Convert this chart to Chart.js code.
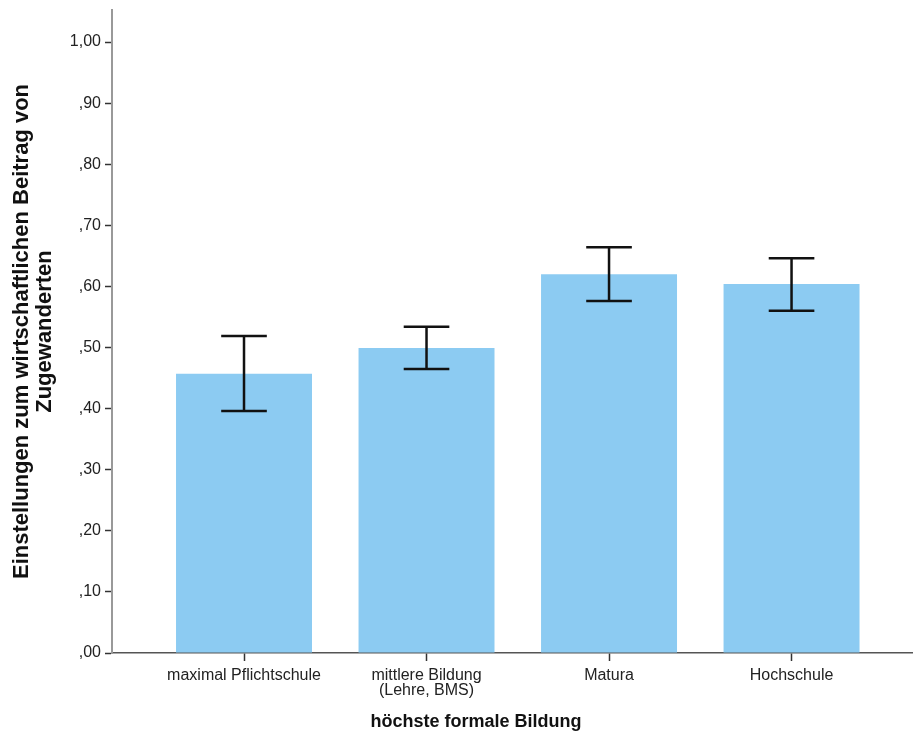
<!DOCTYPE html>
<html>
<head>
<meta charset="utf-8">
<script src="https://cdn.jsdelivr.net/npm/chart.js@4/dist/chart.umd.min.js"></script>
<style>
  html, body { margin: 0; padding: 0; background: #fff; }
  #wrap { width: 913px; height: 738px; }
</style>
</head>
<body>
<div id="wrap"><canvas id="c" width="913" height="738"></canvas></div>
<script>
// Mittelwerte mit 95%-Konfidenzintervall je Bildungsgruppe
const categories = ['maximal Pflichtschule', ['mittlere Bildung', '(Lehre, BMS)'], 'Matura', 'Hochschule'];
const means = [0.457, 0.499, 0.620, 0.604];
const ciLower = [0.396, 0.465, 0.576, 0.560];
const ciUpper = [0.519, 0.534, 0.664, 0.646];
const yTickValues = [0, 0.1, 0.2, 0.3, 0.4, 0.5, 0.6, 0.7, 0.8, 0.9, 1.0];
const yTitle = ['Einstellungen zum wirtschaftlichen Beitrag von', 'Zugewanderten'];
const xTitle = 'höchste formale Bildung';

const positions = categories.map((_, i) => i + 1);

function fmtComma(v) {
  let s = v.toFixed(2).replace('.', ',');
  if (s.startsWith('0,')) s = s.slice(1);
  return s;
}

const errorBars = {
  id: 'errorBars',
  afterDatasetsDraw(chart) {
    const { ctx, scales: { x, y } } = chart;
    ctx.save();
    ctx.strokeStyle = '#111';
    ctx.lineWidth = 2.5;
    ctx.lineCap = 'butt';
    positions.forEach((p, i) => {
      const cx = x.getPixelForValue(p);
      const half = (x.getPixelForValue(p + 0.125) - cx);
      const yl = y.getPixelForValue(ciLower[i]);
      const yu = y.getPixelForValue(ciUpper[i]);
      ctx.beginPath();
      ctx.moveTo(cx, yl); ctx.lineTo(cx, yu);
      ctx.moveTo(cx - half, yu); ctx.lineTo(cx + half, yu);
      ctx.moveTo(cx - half, yl); ctx.lineTo(cx + half, yl);
      ctx.stroke();
    });
    ctx.restore();
  }
};

const xAxisTitle = {
  id: 'xAxisTitle',
  afterDraw(chart) {
    const { ctx } = chart;
    ctx.save();
    ctx.fillStyle = '#111';
    ctx.font = 'bold 18px "Liberation Sans", Arial, sans-serif';
    ctx.textAlign = 'center';
    ctx.textBaseline = 'middle';
    ctx.fillText(xTitle, 476, 722);
    ctx.restore();
  }
};

new Chart(document.getElementById('c'), {
  type: 'bar',
  data: {
    datasets: [{
      data: positions.map((p, i) => ({ x: p, y: means[i] })),
      backgroundColor: '#8ccbf2',
      borderWidth: 0,
      categoryPercentage: 1,
      barPercentage: 0.745
    }]
  },
  options: {
    responsive: false,
    animation: false,
    layout: { padding: { top: 10, right: 1, left: 0, bottom: 0 } },
    plugins: { legend: { display: false }, tooltip: { enabled: false } },
    scales: {
      x: {
        type: 'linear',
        offset: false,
        min: 0.2767,
        max: 4.66,
        afterBuildTicks(axis) { axis.ticks = positions.map(v => ({ value: v })); },
        afterFit(axis) { axis.height = 85; axis.paddingLeft = 0; axis.paddingRight = 0; },
        grid: { offset: false, drawOnChartArea: false, drawTicks: true, tickLength: 8, tickColor: '#333', tickWidth: 1.5 },
        border: { display: true, color: '#555', width: 1.5 },
        ticks: {
          autoSkip: false,
          maxRotation: 0,
          padding: 7,
          color: '#222',
          font: { family: '"Liberation Sans", Arial, sans-serif', size: 16, lineHeight: 0.95 },
          callback: (v) => categories[Math.round(v) - 1]
        }
      },
      y: {
        min: 0,
        max: 1.0524,
        afterBuildTicks(axis) { axis.ticks = yTickValues.map(v => ({ value: v })); },
        afterFit(axis) { axis.width = 112; axis.paddingTop = 0; axis.paddingBottom = 0; },
        grid: { drawOnChartArea: false, drawTicks: true, tickLength: 7, tickColor: '#333', tickWidth: 1.5 },
        border: { display: true, color: '#999', width: 2 },
        ticks: {
          padding: 4,
          color: '#222',
          font: { family: '"Liberation Sans", Arial, sans-serif', size: 16 },
          callback: (v) => fmtComma(v)
        },
        title: {
          display: true,
          text: yTitle,
          color: '#111',
          padding: { top: 10, bottom: 0 },
          font: { family: '"Liberation Sans", Arial, sans-serif', size: 22, weight: 'bold', lineHeight: 1.05 }
        }
      }
    }
  },
  plugins: [errorBars, xAxisTitle]
});
</script>
</body>
</html>
